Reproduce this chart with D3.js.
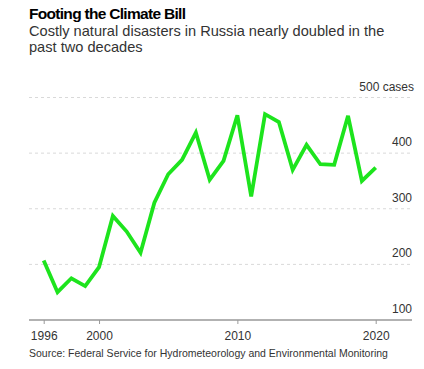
<!DOCTYPE html>
<html><head><meta charset="utf-8">
<script src="https://cdn.jsdelivr.net/npm/d3@7/dist/d3.min.js"></script>
<style>
body{margin:0;background:#fff;}
svg{display:block;font-family:"Liberation Sans",Arial,sans-serif;}
</style></head><body>
<div id="chart"></div>
<script>
const years = [1996,1997,1998,1999,2000,2001,2002,2003,2004,2005,2006,2007,2008,2009,2010,2011,2012,2013,2014,2015,2016,2017,2018,2019,2020];
const cases = [207,150,175,161,195,287,259,221,311,362,388,437,352,386,468,322,470,456,370,415,380,379,467,350,374];
const yTicks = [100,200,300,400,500];
const xTicks = [1996,2000,2010,2020];
const title = "Footing the Climate Bill";
const subtitle = ["Costly natural disasters in Russia nearly doubled in the","past two decades"];
const source = "Source: Federal Service for Hydrometeorology and Environmental Monitoring";

const W=424,H=369;
const svg=d3.select("#chart").append("svg").attr("width",W).attr("height",H);
const left=29,right=412;
const x=d3.scaleLinear().domain([1996,2020]).range([43.7,375.7]);
const y=d3.scaleLinear().domain([100,500]).range([320,97.5]);

svg.append("text").attr("x",29).attr("y",19).attr("font-size",15.5).attr("font-weight",700)
  .attr("letter-spacing",-0.7).attr("fill","#000").text(title);
svg.selectAll("text.sub").data(subtitle).join("text").attr("class","sub")
  .attr("x",29).attr("y",(d,i)=>36+i*16).attr("font-size",14.6).attr("fill","#333").text(d=>d);

// grid
svg.selectAll("line.grid").data(yTicks.filter(d=>d>100)).join("line").attr("class","grid")
  .attr("x1",left).attr("x2",right).attr("y1",d=>y(d)).attr("y2",d=>y(d))
  .attr("stroke","#d9d9d9").attr("stroke-width",1).attr("stroke-dasharray","3,3");
svg.selectAll("text.ylab").data(yTicks).join("text").attr("class","ylab")
  .attr("x",d=>d===500?414:412).attr("y",d=>y(d)-7).attr("text-anchor","end")
  .attr("font-size",12).attr("fill","#333").text(d=>d===500?"500 cases":d);

// x axis
const xAxis=d3.axisBottom(x).tickValues(xTicks).tickFormat(d3.format("d")).tickSize(4).tickSizeOuter(0);
const gx=svg.append("g").attr("transform","translate(0,320)").call(xAxis);
gx.select(".domain").remove();
gx.insert("line",":first-child").attr("x1",left).attr("x2",right).attr("stroke","#999").attr("stroke-width",1.5);
gx.selectAll(".tick line").attr("stroke","#999");
gx.selectAll(".tick text").attr("font-size",12).attr("fill","#333").attr("dy",null).attr("y",19.5)
  .attr("font-family","Liberation Sans, Arial, sans-serif");

// line
const line=d3.line().x((d,i)=>x(years[i])).y(d=>y(d));
svg.append("path").datum(cases).attr("d",line).attr("fill","none")
  .attr("stroke","#1de41d").attr("stroke-width",3.8).attr("stroke-linejoin","miter");

svg.append("text").attr("x",29).attr("y",356.5).attr("font-size",10.5).attr("fill","#333").text(source);
</script></body></html>
